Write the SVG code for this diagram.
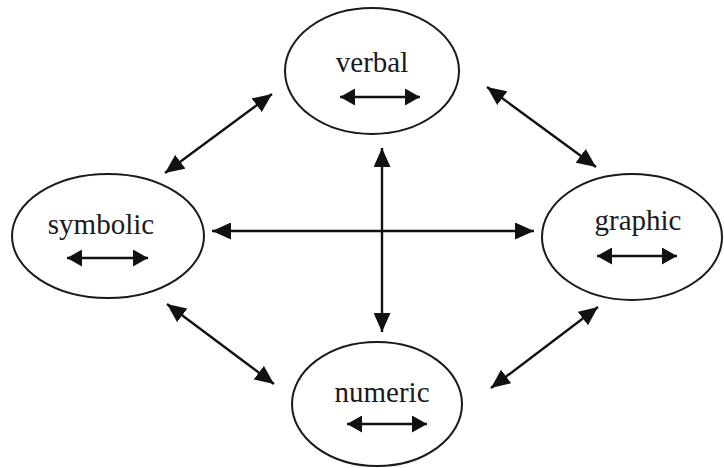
<svg xmlns="http://www.w3.org/2000/svg" width="724" height="468" viewBox="0 0 724 468">
<style>
.node ellipse{fill:#fff;stroke:#1a1a1a;stroke-width:2}
.node text{font-family:"Liberation Serif","Times New Roman",serif;font-size:29px;fill:#1a1a1a;text-anchor:middle}
.arr{stroke:#111;stroke-width:2.4;fill:none;marker-start:url(#ah);marker-end:url(#ah)}
.sm{stroke:#111;stroke-width:2.4;fill:none;marker-start:url(#ahs);marker-end:url(#ahs)}
</style>
<defs>
<marker id="ah" viewBox="0 0 19 17" refX="19" refY="8.5" markerWidth="19" markerHeight="17" markerUnits="userSpaceOnUse" orient="auto-start-reverse">
<path d="M0,0 L19,8.5 L0,17 z" fill="#111"/>
</marker>
<marker id="ahs" viewBox="0 0 15 17" refX="15" refY="8.5" markerWidth="15" markerHeight="17" markerUnits="userSpaceOnUse" orient="auto-start-reverse">
<path d="M0,0 L15,8.5 L0,17 z" fill="#111"/>
</marker>
</defs>
<rect width="724" height="468" fill="#fff"/>
<g id="connectors">
<line class="arr" x1="165" y1="173" x2="272" y2="94"/>
<line class="arr" x1="487" y1="87" x2="596" y2="167"/>
<line class="arr" x1="167" y1="304" x2="274" y2="384"/>
<line class="arr" x1="598" y1="307" x2="491" y2="388"/>
<line class="arr" x1="212" y1="231" x2="534" y2="231"/>
<line class="arr" x1="382" y1="148" x2="382" y2="332"/>
</g>
<g id="verbal" class="node">
<ellipse cx="372" cy="71" rx="87" ry="63"/>
<text x="372" y="72">verbal</text>
<line class="sm" x1="340" y1="97" x2="420" y2="97"/>
</g>
<g id="symbolic" class="node">
<ellipse cx="108" cy="236" rx="96" ry="62"/>
<text x="101" y="234">symbolic</text>
<line class="sm" x1="67" y1="258" x2="148" y2="258"/>
</g>
<g id="graphic" class="node">
<ellipse cx="632" cy="237" rx="90" ry="63"/>
<text x="638" y="230">graphic</text>
<line class="sm" x1="597" y1="256" x2="677" y2="256"/>
</g>
<g id="numeric" class="node">
<ellipse cx="377" cy="404" rx="85" ry="62"/>
<text x="382" y="402">numeric</text>
<line class="sm" x1="347" y1="424" x2="427" y2="424"/>
</g>
</svg>
